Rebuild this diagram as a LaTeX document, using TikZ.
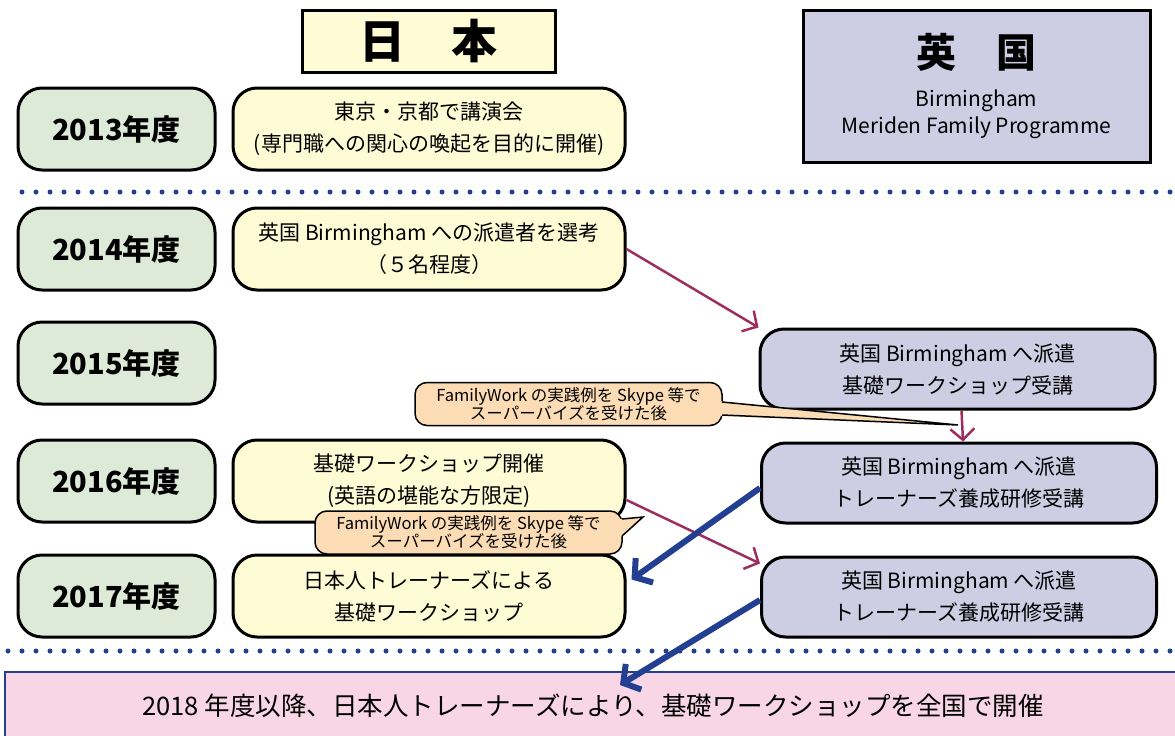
\documentclass[tikz,border=0pt]{standalone}
\usepackage{fontspec}
\setmainfont{Noto Sans CJK JP}
\usetikzlibrary{arrows.meta}

\definecolor{yeargreen}{HTML}{DCEAD7}
\definecolor{jpyellow}{HTML}{FFFBD5}
\definecolor{uklilac}{HTML}{CDCDE3}
\definecolor{notepeach}{HTML}{FCDCB4}
\definecolor{allpink}{HTML}{F8D6E5}
\definecolor{linkred}{HTML}{9C2F5E}
\definecolor{feedblue}{HTML}{233F91}

\tikzset{
  headbox/.style={draw, line width=3pt, align=center},
  roundbox/.style={draw, line width=3pt, rounded corners=24pt, minimum height=82pt, align=center},
  yearbox/.style={roundbox, fill=yeargreen, minimum width=197pt,
    font=\bfseries\fontsize{29}{33}\selectfont},
  jpbox/.style={roundbox, fill=jpyellow, minimum width=392pt,
    font=\fontsize{21}{32}\selectfont},
  ukbox/.style={roundbox, fill=uklilac, minimum width=395pt, minimum height=80pt,
    font=\fontsize{21}{32}\selectfont},
  notebox/.style={draw, line width=1.5pt, rounded corners=12pt, fill=notepeach, align=center,
    minimum width=307pt, minimum height=43pt, inner sep=2pt,
    font=\fontsize{16.5}{18}\selectfont},
  dotline/.style={feedblue, line width=5pt, line cap=round, dash pattern=on 0pt off 14pt},
  linkarrow/.style={linkred, line width=2.5pt, -{Straight Barb[length=11pt,width=24pt]}},
  feedarrow/.style={feedblue, line width=6pt, -{Straight Barb[length=12pt,width=30pt]}}
}

\begin{document}
\begin{tikzpicture}[x=1pt,y=-1pt]
  \useasboundingbox (0,0) rectangle (1175,736);

  % separators
  \draw[dotline] (22,192) -- (1175,192);
  \draw[dotline] (8,651) -- (1175,651);

  % column headers
  \node[headbox, fill=jpyellow, minimum width=253pt, minimum height=62pt,
    font=\bfseries\fontsize{46}{50}\selectfont] (jphead) at (428.5,41) {日　本};
  \node[headbox, fill=uklilac, minimum width=347pt, minimum height=152pt,
    font=\fontsize{21}{27}\selectfont] (ukhead) at (976.5,86)
    {{\bfseries\fontsize{40}{46}\selectfont 英　国}\\[12pt]
     Birmingham\\
     Meriden Family Programme};

  % years
  \begin{scope}[every node/.style={yearbox}]
    \node (y13) at (116.5,129) {2013年度};
    \node (y14) at (116.5,249) {2014年度};
    \node (y15) at (116.5,363) {2015年度};
    \node (y16) at (116.5,481) {2016年度};
    \node (y17) at (116.5,596) {2017年度};
  \end{scope}

  % Japan side
  \begin{scope}[every node/.style={jpbox}]
    \node (jp13) at (429,129) {東京・京都で講演会\\(専門職への関心の喚起を目的に開催)};
    \node (jp14) at (429,249) {英国 Birmingham への派遣者を選考\\（５名程度）};
    \node (jp16) at (429,481) {基礎ワークショップ開催\\(英語の堪能な方限定)};
    \node (jp17) at (429,596) {日本人トレーナーズによる\\基礎ワークショップ};
  \end{scope}

  % UK side
  \begin{scope}[every node/.style={ukbox}]
    \node (uk15) at (957.5,369) {英国 Birmingham へ派遣\\基礎ワークショップ受講};
    \node (uk16) at (959,483) {英国 Birmingham へ派遣\\トレーナーズ養成研修受講};
    \node (uk17) at (959,597) {英国 Birmingham へ派遣\\トレーナーズ養成研修受講};
  \end{scope}

  % nationwide
  \node[draw=feedblue, line width=2pt, fill=allpink, minimum width=1176pt, minimum height=68pt,
    font=\fontsize{25.5}{30}\selectfont] (allover) at (593,706)
    {2018 年度以降、日本人トレーナーズにより、基礎ワークショップを全国で開催};

  % supervision notes
  \node[notebox] (noteA) at (568.5,404) {FamilyWork の実践例を Skype 等で\\スーパーバイズを受けた後};
  \coordinate (tipA) at (958,425);
  \fill[notepeach] (718,401) -- (tipA) -- (718,416) -- cycle;
  \draw[line width=1.5pt] (722,402) -- (tipA) -- (722,415);

  \node[notebox] (noteB) at (468.5,532.5) {FamilyWork の実践例を Skype 等で\\スーパーバイズを受けた後};
  \coordinate (tipB) at (643,517);
  \fill[notepeach] (619,519) -- (tipB) -- (619,538) -- cycle;
  \draw[line width=1.5pt] (622,519) -- (tipB) -- (622,536);

  % links
  \begin{scope}[every edge/.style={draw, linkarrow}]
    \path (jp14.east) edge (uk15.north west);
    \path (uk15.south) ++(4,0) coordinate (s15) (s15) edge ([xshift=4pt]uk16.north);
    \path (jp16.east) ++(0,19) coordinate (s16) (s16) edge ([yshift=-8pt]uk17.north west);
  \end{scope}
  \begin{scope}[every edge/.style={draw, feedarrow}]
    \path ([yshift=-5pt]uk16.west) edge ([xshift=5pt,yshift=-26pt]jp17.north east);
    \path ([yshift=-3pt]uk17.west) edge ([xshift=27pt,yshift=-14pt]allover.north);
  \end{scope}
\end{tikzpicture}
\end{document}
